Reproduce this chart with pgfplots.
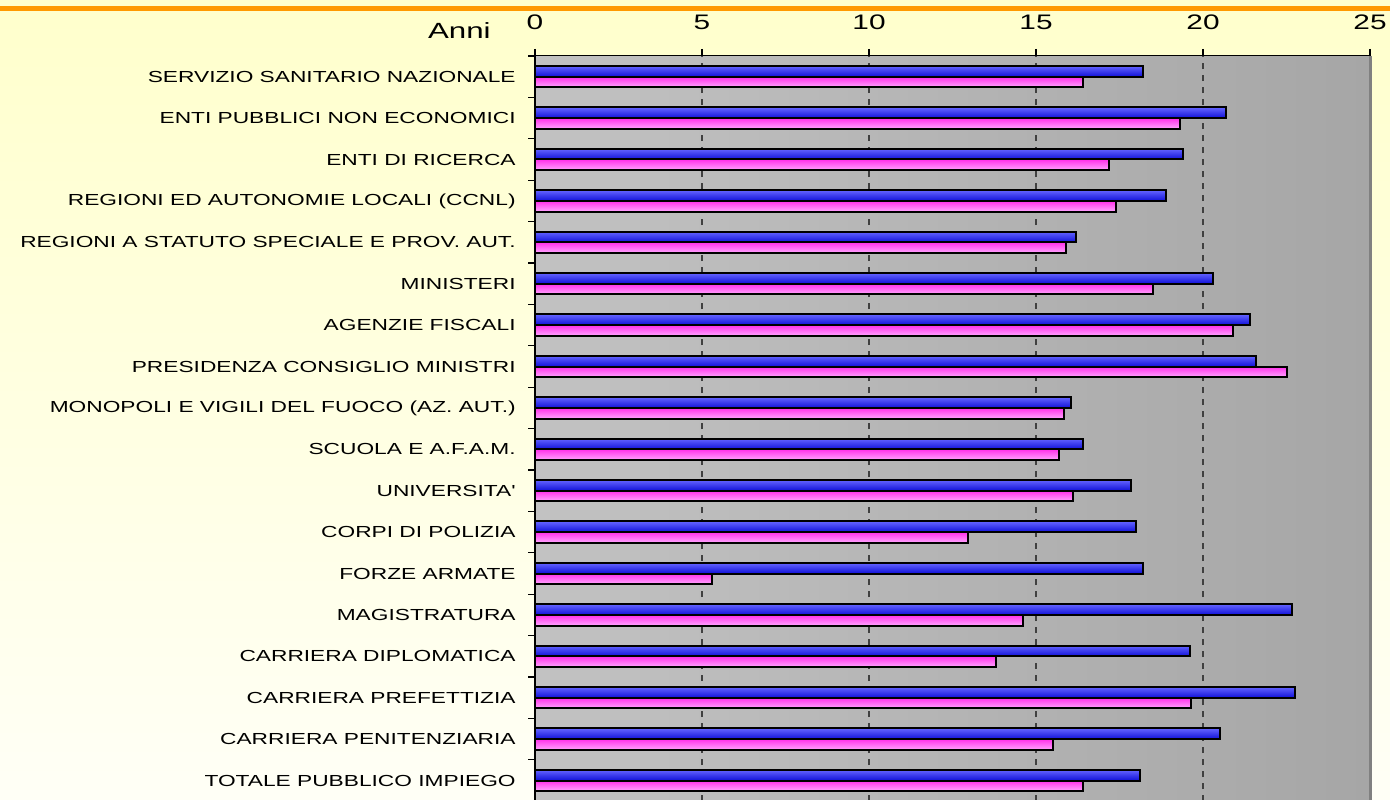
\documentclass[border=0pt]{standalone}
\usepackage{fontspec}
\setmainfont{Liberation Sans}
\newfontfamily\wide{Liberation Sans}[FakeStretch=1.42]
\usepackage{pgfplots}
\pgfplotsset{compat=1.18}
\usepackage{pgfplotstable}
\definecolor{bgtop}{HTML}{FFFFCC}
\definecolor{bgbot}{HTML}{FFFFF6}
\definecolor{orangeline}{HTML}{FF9900}
\definecolor{plotA}{HTML}{C2C2C2}
\definecolor{plotB}{HTML}{A6A6A6}
\definecolor{blueT}{HTML}{6464FF}
\definecolor{blueB}{HTML}{1010D8}
\definecolor{pinkT}{HTML}{FF30EA}
\definecolor{pinkB}{HTML}{FFA6FF}

\pgfplotstableread{
y blue pink
17 18.2 16.4
16 20.7 19.3
15 19.4 17.2
14 18.9 17.4
13 16.2 15.9
12 20.3 18.5
11 21.4 20.9
10 21.6 22.5
9 16.05 15.85
8 16.4 15.7
7 17.85 16.1
6 18.0 12.95
5 18.2 5.3
4 22.65 14.6
3 19.6 13.8
2 22.75 19.65
1 20.5 15.5
0 18.1 16.4
}\data

\begin{document}
\begin{tikzpicture}
\useasboundingbox (0,0) rectangle (695pt,399.5pt);
\shade[top color=bgtop, bottom color=bgbot] (0,0) rectangle (695pt,399.5pt);
\draw[orangeline, line width=2.5pt] (0,395.25pt) -- (695pt,395.25pt);
\node[anchor=base east, inner sep=0pt, font=\wide\fontsize{11}{13}\selectfont] at (245.5pt,380pt) {Anni};
\begin{axis}[
  at={(267.5pt,371.5pt)}, anchor=north west,
  scale only axis, width=417.5pt, height=372.6pt,
  xmin=0, xmax=25, ymin=-0.5, ymax=17.5,
  xbar, bar width=5.35pt,
  axis line style={draw=none},
  axis background/.style={shade, left color=plotA, right color=plotB},
  xtick={0,5,...,25}, xtick pos=upper, xticklabel pos=upper,
  tick align=outside, major tick length=3.5pt,
  tick style={black, line width=0.6pt},
  xmajorgrids, grid style={black!75, dash pattern=on 3pt off 3pt, line width=0.6pt},
  ytick={-0.5,0.5,...,17.5}, ytick pos=left,
  yticklabels={TOTALE PUBBLICO IMPIEGO, CARRIERA PENITENZIARIA, CARRIERA PREFETTIZIA, CARRIERA DIPLOMATICA, MAGISTRATURA, FORZE ARMATE, CORPI DI POLIZIA, UNIVERSITA', SCUOLA E A.F.A.M., MONOPOLI E VIGILI DEL FUOCO (AZ. AUT.), PRESIDENZA CONSIGLIO MINISTRI, AGENZIE FISCALI, MINISTERI, REGIONI A STATUTO SPECIALE E PROV. AUT., REGIONI ED AUTONOMIE LOCALI (CCNL), ENTI DI RICERCA, ENTI PUBBLICI NON ECONOMICI, SERVIZIO SANITARIO NAZIONALE, {}},
  xticklabel style={anchor=base, inner sep=0pt, yshift=9.5pt, font=\wide\fontsize{10.5}{12}\selectfont},
  yticklabel style={anchor=east, inner sep=0pt, xshift=-6pt, yshift=10.35pt, font=\wide\fontsize{8}{9.6}\selectfont},
  /pgf/number format/assume math mode=true,
  clip=false,
  bluebar/.style={draw=black, line width=1pt, top color=blueT, bottom color=blueB, bar shift=2.675pt, forget plot},
  pinkbar/.style={draw=black, line width=1pt, top color=pinkT, bottom color=pinkB, bar shift=-2.675pt, forget plot},
]
\pgfplotsinvokeforeach{0,...,17}{
  \addplot[bluebar, y filter/.expression={abs(y-#1)<0.3 ? y : nan}] table[x=blue, y=y]{\data};
  \addplot[pinkbar, y filter/.expression={abs(y-#1)<0.3 ? y : nan}] table[x=pink, y=y]{\data};
}
\draw[black, line width=1pt] (rel axis cs:0,0) -- (rel axis cs:0,1);
\draw[black, line width=0.5pt] (rel axis cs:0,1) -- (rel axis cs:1,1);
\draw[gray, line width=1.5pt] (rel axis cs:1,0) -- (rel axis cs:1,1);
\end{axis}
\end{tikzpicture}
\end{document}
